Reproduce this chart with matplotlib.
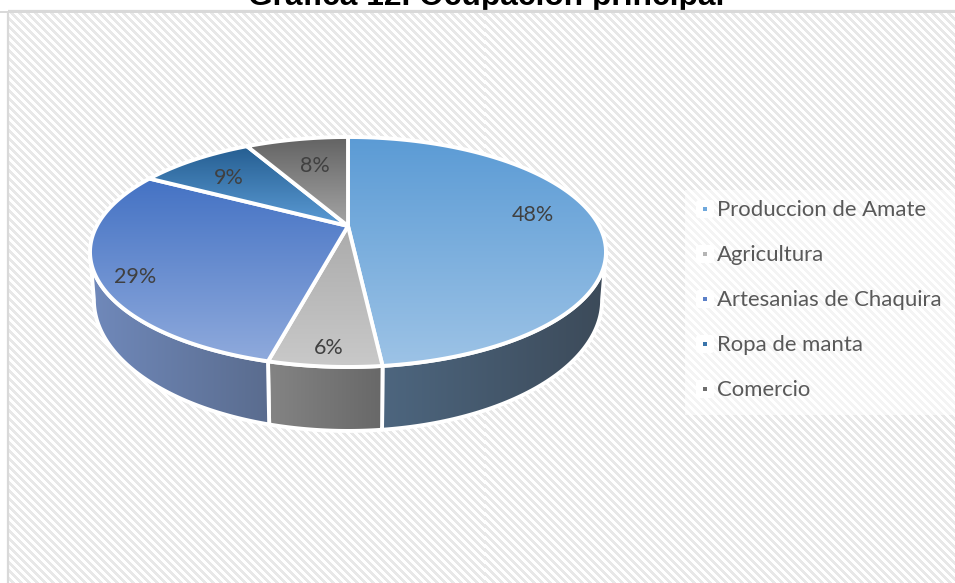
import numpy as np
import matplotlib
matplotlib.use('Agg')
import matplotlib.pyplot as plt
from matplotlib.patches import Polygon, Rectangle, FancyBboxPatch
from matplotlib.colors import LinearSegmentedColormap

# Datos de la grafica
titulo = 'Gráfica 12. Ocupación principal'
categorias = ['Produccion de Amate', 'Agricultura', 'Artesanias de Chaquira', 'Ropa de manta', 'Comercio']
valores = [48.3, 5.7, 29.0, 9.0, 8.0]

# Colores: arriba / abajo de la cara, izquierda / derecha del costado
cara_arriba = ['#5b9bd5', '#ababab', '#4472c4', '#255e91', '#636363']
cara_abajo = ['#9dc3e6', '#c9c9c9', '#8faadc', '#5b9bd5', '#a5a5a5']
lado_izq = ['#4d667f', '#848484', '#7089bb', '#255e91', '#636363']
lado_der = ['#3c4a59', '#686868', '#5a6c8e', '#255e91', '#636363']
color_leyenda = ['#6fa8dc', '#b5b5b5', '#5b80c8', '#3a75ab', '#6e6e6e']

# Posicion de las etiquetas en pixeles
pos_etiquetas = [(533, 215), (329, 348), (135, 277), (229, 178), (315, 166)]
filas_leyenda = [210, 255, 300, 345, 390]

# Geometria de la proyeccion
cx, cy = 348, 226
rx, ry, k = 251.3, 109.1, 0.226


def cara(ang):
    # ang en grados desde arriba, sentido horario
    a = np.radians(ang)
    u, v = np.sin(a), np.cos(a)
    w = 1 / (1 + k * v)
    return cx + rx * u * w, cy - ry * v * w


def base(ang):
    x, y = cara(ang)
    return cx + (x - cx) * 0.985, 300 + (y - 252) * 1.139


def relleno(ax, pts, c1, c2, vertical, z):
    pts = np.array(pts)
    poly = Polygon(pts, closed=True, fc='none', ec='white', lw=2.8, zorder=z + 0.1, joinstyle='round')
    ax.add_patch(poly)
    cmap = LinearSegmentedColormap.from_list('g', [c1, c2])
    grad = np.linspace(0, 1, 256)
    grad = grad.reshape(-1, 1) if vertical else grad.reshape(1, -1)
    x0, x1 = pts[:, 0].min(), pts[:, 0].max()
    y0, y1 = pts[:, 1].min(), pts[:, 1].max()
    im = ax.imshow(grad, cmap=cmap, extent=(x0, x1, y1, y0), aspect='auto', zorder=z, interpolation='bilinear')
    im.set_clip_path(Polygon(pts, closed=True, transform=ax.transData))


fig = plt.figure(figsize=(9.55, 5.83), dpi=100)
ax = fig.add_axes([0, 0, 1, 1])

# Fondo rayado
yy, xx = np.mgrid[0:572, 0:947]
rayas = np.where(((xx - yy) % 8) < 4, 0.91, 1.0)
ax.imshow(rayas, cmap='gray', vmin=0, vmax=1, extent=(8, 955, 583, 11), aspect='auto', zorder=0, interpolation='nearest')
ax.add_patch(Rectangle((8, 11), 960, 590, fc='none', ec='#d9d9d9', lw=1.6, zorder=1))

# Titulo cortado por el marco
ax.text(486, 5, titulo, family='Liberation Sans', weight='bold', fontsize=22.9, ha='center', va='baseline', color='black', zorder=0.5)
ax.add_patch(Rectangle((0, 10.5), 955, 2, fc='#d9d9d9', ec='none', zorder=1))

# Angulos de cada sector
fin = np.cumsum(valores) / sum(valores) * 360
ini = np.concatenate([[0], fin[:-1]])

# Costados: solo la parte visible
for i in range(len(valores)):
    a1, a2 = max(ini[i], 103), min(fin[i], 257)
    if a2 <= a1:
        continue
    angs = np.linspace(a1, a2, 80)
    arriba = [cara(a) for a in angs]
    abajo = [base(a) for a in angs[::-1]]
    relleno(ax, arriba + abajo, lado_izq[i], lado_der[i], False, 2 + i * 0.2)

# Caras superiores
for i in range(len(valores)):
    angs = np.linspace(ini[i], fin[i], 120)
    pts = [(cx, cy)] + [cara(a) for a in angs]
    relleno(ax, pts, cara_arriba[i], cara_abajo[i], True, 4 + i * 0.2)

# Etiquetas de porcentaje
for v, (x, y) in zip(valores, pos_etiquetas):
    ax.text(x, y, f'{v:.0f}%', family='Lato', fontsize=15.5, color='#404040', ha='center', va='center', zorder=7)

# Leyenda
ax.add_patch(Rectangle((685, 190), 270, 225, fc='white', alpha=0.55, ec='none', zorder=2))
for nombre, col, y in zip(categorias, color_leyenda, filas_leyenda):
    ax.add_patch(FancyBboxPatch((697, y - 9), 16, 16, boxstyle='round,pad=1,rounding_size=3', fc='white', ec='none', zorder=3))
    ax.add_patch(Rectangle((703, y - 3), 4, 4, fc=col, ec='none', zorder=4))
    ax.text(717, y, nombre, family='Lato', fontsize=15.9, color='#595959', ha='left', va='center', zorder=4)

ax.set_xlim(0, 955)
ax.set_ylim(583, 0)
ax.axis('off')
fig.savefig('out.png', dpi=100)
